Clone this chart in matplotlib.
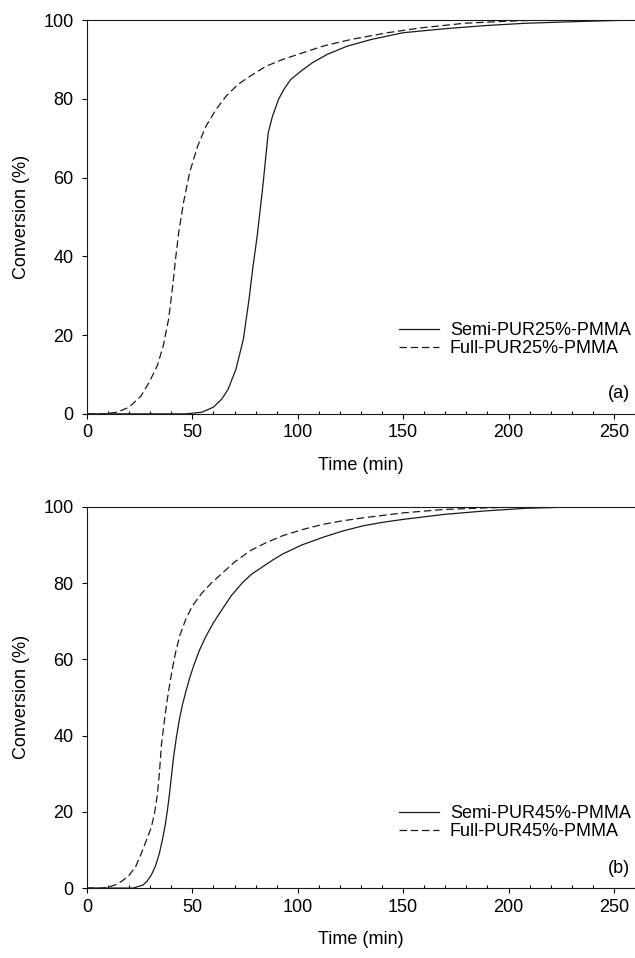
import numpy as np
from matplotlib import pyplot as plt
from matplotlib.ticker import MultipleLocator

plt.rcParams['font.family'] = ['Liberation Sans', 'DejaVu Sans']

# panel (a), values
t_full_a = [0, 7.5, 14.2, 20, 25.7, 29.5, 33.4, 36.2, 38.7, 40.5, 42, 43.5, 45.8, 48.7, 52.5, 56.4, 61.2, 66, 71.7,
            77.5, 85, 92.8, 102.4, 112, 125.4, 142.6, 158, 179, 198, 213.6, 260]
c_full_a = [0, 0, 0.4, 1.7, 4.6, 8, 12.3, 17.3, 24, 31.7, 39.3, 46, 53.7, 61.3, 68, 73, 77.3, 80.7, 83.7,
            85.8, 88.3, 90, 91.7, 93.4, 95.1, 96.8, 98, 99.2, 99.7, 100, 100]
t_semi_a = [0, 46.8, 54.4, 60, 64, 67, 70.7, 74.2, 76.9, 78.8, 80.7, 82.2, 83.6, 84.7, 86, 88, 90.9, 93.4, 96.6,
            101.4, 107, 114, 123.5, 135, 150, 169.5, 188.6, 208, 236.6, 258, 260]
c_semi_a = [0, 0, 0.4, 1.7, 3.8, 6.3, 11.4, 19, 29.2, 37.6, 45, 52, 58.7, 64.6, 71.4, 75.6, 79.9, 82.4, 84.9,
            87, 89.2, 91.3, 93.4, 95.1, 96.8, 97.8, 98.6, 99.2, 99.7, 100, 100]

# panel (b)
t_full_b = [0, 7.5, 11, 14.2, 17, 20, 23, 25.7, 28, 30.5, 32, 33.4, 34.4, 35.3, 36.3, 37.2, 38.2, 39.1, 40.5, 42,
            44, 46.8, 50, 54.4, 59, 64, 70, 77.5, 85, 92.8, 102, 112, 121, 131, 150, 169.5, 188.6, 208, 260]
c_full_b = [0, 0, 0.4, 1, 2, 3.4, 5.5, 9, 12.3, 15.9, 19.5, 24.5, 30.5, 37.5, 42, 46, 49.8, 53, 57.5, 61.7,
            66.2, 70.4, 74, 77.3, 80, 82.5, 85.5, 88.5, 90.6, 92.4, 94, 95.4, 96.3, 97.1, 98.4, 99.3, 99.7, 100, 100]
t_semi_b = [0, 21.9, 26.6, 28.5, 30.5, 32.5, 34.3, 35.8, 37.2, 38.2, 39.1, 40, 41, 42.4, 43.9, 45.3, 46.8, 48.6,
            50.6, 53.3, 56.4, 60, 64, 68.5, 73.6, 78, 83.2, 88, 92.8, 102, 112, 121, 131, 140, 150, 169.5, 188.6,
            208, 227, 258, 260]
c_semi_b = [0, 0, 0.8, 1.8, 3.4, 5.8, 9, 12.7, 16.8, 20.6, 24.5, 29, 34, 39.5, 44.4, 48.1, 51.3, 54.9,
            58.3, 62.3, 66, 69.6, 73, 76.7, 80, 82.3, 84.2, 86, 87.6, 90, 92, 93.6, 95, 95.9, 96.7, 98, 98.9,
            99.6, 99.9, 100, 100]

panels = [
    ([0.137, 0.568, 0.863, 0.411], t_semi_a, c_semi_a, t_full_a, c_full_a,
     'Semi-PUR25%-PMMA', 'Full-PUR25%-PMMA', '(a)', 0.112),
    ([0.137, 0.073, 0.863, 0.398], t_semi_b, c_semi_b, t_full_b, c_full_b,
     'Semi-PUR45%-PMMA', 'Full-PUR45%-PMMA', '(b)', 0.093),
]

FS = 13
fig = plt.figure(figsize=(6.35, 9.58), dpi=100)

for rect, ts, cs, tf, cf, lab_s, lab_f, tag, leg_y in panels:
    ax = fig.add_axes(rect)
    ax.plot(ts, cs, color='#1a1a1a', lw=0.9, ls='-', label=lab_s)
    ax.plot(tf, cf, color='#1a1a1a', lw=0.9, ls=(0, (6, 3)), label=lab_f)
    ax.set_xlim(0, 260)
    ax.set_ylim(0, 100)
    ax.xaxis.set_major_locator(MultipleLocator(50))
    ax.xaxis.set_minor_locator(MultipleLocator(10))
    ax.yaxis.set_major_locator(MultipleLocator(20))
    ax.tick_params(axis='x', which='major', direction='out', length=3.6, width=0.8, labelsize=FS, pad=4)
    ax.tick_params(axis='x', which='minor', direction='in', length=2.2, width=0.8)
    ax.tick_params(axis='y', which='major', direction='out', length=3.6, width=0.8, labelsize=FS, pad=6)
    for s in ax.spines.values():
        s.set_linewidth(0.8)
        s.set_color('#1a1a1a')
    ax.spines['right'].set_visible(False)
    ax.set_xlabel('Time (min)', fontsize=FS, labelpad=11)
    ax.set_ylabel('Conversion (%)', fontsize=FS, labelpad=10)
    ax.legend(loc='lower right', bbox_to_anchor=(1.015, leg_y), frameon=False, fontsize=FS,
              handlelength=2.2, handletextpad=0.6, labelspacing=0.05, borderpad=0.2)
    ax.text(0.99, 0.03, tag, transform=ax.transAxes, ha='right', va='bottom', fontsize=FS)

plt.savefig('out.png', dpi=100)
